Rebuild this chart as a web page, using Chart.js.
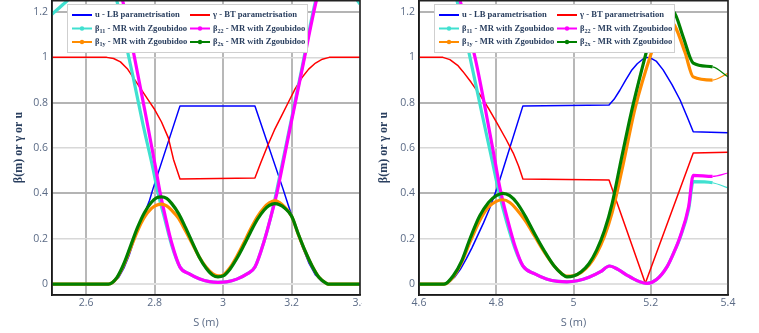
<!DOCTYPE html>
<html>
<head>
<meta charset="utf-8">
<script src="https://cdn.jsdelivr.net/npm/chart.js@4.4.1/dist/chart.umd.min.js"></script>
<style>
  html, body { margin: 0; padding: 0; background: #fff; }
  #wrap { position: relative; width: 759px; height: 333px; overflow: hidden; }
  #leftBox { position: absolute; left: 0; top: 0; width: 362px; height: 333px; }
  #rightBox { position: absolute; left: 362px; top: 0; width: 397px; height: 333px; }
</style>
</head>
<body>
<div id="wrap">
  <div id="leftBox"><canvas id="leftChart"></canvas></div>
  <div id="rightBox"><canvas id="rightChart"></canvas></div>
</div>
<script>
// legend text, same order for both panels
const legendLabels = [
  "u - LB parametrisation",
  "γ - BT parametrisation",
  "β_{11} - MR with Zgoubidoo",
  "β_{22} - MR with Zgoubidoo",
  "β_{1y} - MR with Zgoubidoo",
  "β_{2x} - MR with Zgoubidoo"
];

const yTicks = [0, 0.2, 0.4, 0.6, 0.8, 1, 1.2];
const leftXTicks = [2.6, 2.8, 3, 3.2, 3.4];
const rightXTicks = [4.6, 4.8, 5, 5.2, 5.4];

// ---- left panel, [S, value] ----
const uLeft = [[2.5,0],[2.665,0],[2.68,0.007],[2.695,0.03],[2.71,0.07],[2.725,0.125],[2.74,0.195],[2.755,0.255],[2.77,0.31],[2.785,0.37],[2.795,0.42],[2.874,0.786],[3.093,0.786],[3.175,0.42],[3.19,0.35],[3.21,0.26],[3.23,0.17],[3.25,0.095],[3.27,0.04],[3.29,0.01],[3.305,0],[3.4,0]];
const gammaLeft = [[2.5,1],[2.66,1],[2.68,0.995],[2.70,0.98],[2.72,0.95],[2.74,0.905],[2.76,0.86],[2.78,0.815],[2.80,0.77],[2.82,0.715],[2.84,0.645],[2.855,0.55],[2.874,0.464],[3.093,0.468],[3.11,0.535],[3.13,0.61],[3.15,0.68],[3.17,0.74],[3.19,0.8],[3.21,0.86],[3.23,0.91],[3.25,0.948],[3.27,0.975],[3.29,0.992],[3.31,1.0],[3.4,1.0]];
const b11Left = [[2.5,1.19],[2.532,1.233],[2.55,1.26],[2.6,1.42],[2.65,1.42],[2.689,1.253],[2.71,1.1],[2.737,0.914],[2.765,0.71],[2.795,0.51],[2.81,0.40],[2.83,0.285],[2.85,0.17],[2.874,0.075],[2.9,0.046],[2.93,0.024],[2.96,0.011],[2.985,0.008],[3.01,0.01],[3.04,0.022],[3.07,0.045],[3.093,0.075],[3.12,0.19],[3.14,0.30],[3.155,0.40],[3.169,0.503],[3.2,0.73],[3.23,0.95],[3.271,1.253],[3.31,1.42],[3.35,1.42],[3.392,1.253],[3.4,1.235]];
const b22Left = [[2.5,1.7],[2.6,1.6],[2.66,1.5],[2.706,1.253],[2.741,1.0],[2.772,0.76],[2.802,0.52],[2.815,0.41],[2.83,0.305],[2.85,0.18],[2.874,0.075],[2.9,0.046],[2.93,0.024],[2.96,0.011],[2.985,0.008],[3.01,0.01],[3.04,0.022],[3.07,0.045],[3.093,0.075],[3.12,0.19],[3.14,0.3],[3.157,0.40],[3.171,0.503],[3.2,0.72],[3.23,0.94],[3.273,1.253],[3.32,1.5],[3.4,1.7]];
const b1yLeft = [[2.5,0],[2.665,0],[2.69,0.028],[2.71,0.085],[2.73,0.16],[2.75,0.235],[2.77,0.295],[2.79,0.333],[2.805,0.348],[2.82,0.353],[2.835,0.345],[2.85,0.325],[2.87,0.29],[2.89,0.235],[2.91,0.178],[2.93,0.12],[2.95,0.075],[2.97,0.045],[2.985,0.036],[3.0,0.04],[3.02,0.072],[3.04,0.122],[3.06,0.18],[3.08,0.242],[3.10,0.297],[3.12,0.338],[3.135,0.358],[3.151,0.368],[3.165,0.36],[3.18,0.34],[3.2,0.30],[3.22,0.218],[3.24,0.143],[3.26,0.08],[3.28,0.03],[3.3,0.005],[3.307,0],[3.4,0]];
const b2xLeft = [[2.5,0],[2.665,0],[2.69,0.03],[2.71,0.09],[2.73,0.17],[2.75,0.25],[2.77,0.315],[2.79,0.36],[2.805,0.38],[2.82,0.385],[2.835,0.378],[2.85,0.355],[2.87,0.311],[2.89,0.25],[2.91,0.184],[2.93,0.12],[2.95,0.071],[2.97,0.039],[2.985,0.032],[3.0,0.036],[3.02,0.066],[3.04,0.113],[3.06,0.169],[3.08,0.229],[3.10,0.285],[3.12,0.327],[3.135,0.347],[3.151,0.355],[3.165,0.35],[3.18,0.335],[3.2,0.30],[3.22,0.22],[3.24,0.145],[3.26,0.08],[3.28,0.03],[3.3,0.005],[3.307,0],[3.4,0]];

// ---- right panel, [S, value] ----
const uRight = [[4.6,0],[4.662,0],[4.677,0.007],[4.692,0.03],[4.707,0.065],[4.722,0.11],[4.737,0.16],[4.752,0.215],[4.767,0.27],[4.782,0.33],[4.797,0.40],[4.81,0.465],[4.869,0.786],[5.092,0.79],[5.105,0.815],[5.12,0.855],[5.135,0.9],[5.15,0.942],[5.165,0.972],[5.18,0.993],[5.19,1.0],[5.2,0.997],[5.215,0.982],[5.232,0.945],[5.255,0.88],[5.276,0.812],[5.295,0.735],[5.31,0.672],[5.4,0.668]];
const gammaRight = [[4.6,1],[4.662,1],[4.68,0.99],[4.70,0.965],[4.714,0.937],[4.735,0.89],[4.758,0.834],[4.78,0.775],[4.802,0.71],[4.825,0.64],[4.844,0.578],[4.858,0.52],[4.869,0.464],[5.092,0.459],[5.186,0.004],[5.31,0.578],[5.4,0.582]];
const b11Right = [[4.6,1.7],[4.65,1.55],[4.698,1.253],[4.732,1.0],[4.762,0.76],[4.79,0.54],[4.805,0.42],[4.826,0.28],[4.848,0.16],[4.869,0.08],[4.9,0.045],[4.93,0.023],[4.96,0.012],[4.983,0.01],[5.01,0.015],[5.04,0.03],[5.07,0.055],[5.093,0.08],[5.115,0.065],[5.138,0.04],[5.165,0.015],[5.19,0.003],[5.215,0.02],[5.242,0.076],[5.26,0.14],[5.276,0.205],[5.298,0.33],[5.31,0.452],[5.36,0.447],[5.4,0.424]];
const b22Right = [[4.6,1.8],[4.66,1.55],[4.706,1.253],[4.745,1.0],[4.772,0.77],[4.796,0.55],[4.81,0.42],[4.83,0.28],[4.85,0.16],[4.869,0.08],[4.9,0.045],[4.93,0.023],[4.96,0.012],[4.983,0.01],[5.01,0.015],[5.04,0.03],[5.07,0.055],[5.093,0.08],[5.115,0.065],[5.138,0.04],[5.165,0.015],[5.19,0.003],[5.215,0.02],[5.242,0.076],[5.26,0.14],[5.276,0.209],[5.298,0.341],[5.31,0.48],[5.36,0.475],[5.4,0.49]];
const b1yRight = [[4.6,0],[4.665,0],[4.69,0.035],[4.71,0.095],[4.732,0.185],[4.757,0.28],[4.78,0.34],[4.8,0.365],[4.817,0.372],[4.835,0.36],[4.855,0.325],[4.875,0.28],[4.9,0.21],[4.925,0.14],[4.95,0.08],[4.97,0.046],[4.983,0.035],[5.0,0.037],[5.02,0.052],[5.04,0.083],[5.06,0.135],[5.08,0.21],[5.1,0.315],[5.125,0.5],[5.16,0.78],[5.204,1.033],[5.225,1.13],[5.245,1.165],[5.262,1.14],[5.289,1.02],[5.31,0.914],[5.36,0.9],[5.4,0.93]];
const b2xRight = [[4.6,0],[4.665,0],[4.69,0.04],[4.71,0.1],[4.732,0.2],[4.757,0.3],[4.78,0.36],[4.8,0.39],[4.817,0.4],[4.835,0.39],[4.855,0.355],[4.875,0.3],[4.9,0.22],[4.925,0.145],[4.95,0.08],[4.97,0.045],[4.983,0.032],[5.0,0.036],[5.02,0.055],[5.04,0.09],[5.06,0.15],[5.08,0.235],[5.1,0.355],[5.12,0.52],[5.15,0.76],[5.19,1.033],[5.212,1.17],[5.235,1.215],[5.26,1.2],[5.284,1.09],[5.31,0.975],[5.36,0.958],[5.4,0.914]];

const seriesColors = ["#0000ff", "#ff0000", "#40e0d0", "#ff00ff", "#ff8c00", "#008000"];
const tickColor = "#5b6b86";
const titleColor = "#2a3f5f";

const fmt = v => String(Math.round(v * 100) / 100);

// black frame round the plot area
const framePlugin = {
  id: "frame",
  afterDatasetsDraw(chart) {
    const a = chart.chartArea, ctx = chart.ctx;
    ctx.save();
    ctx.strokeStyle = "#222";
    ctx.lineWidth = 1.5;
    ctx.strokeRect(a.left, a.top + 0.75, a.right - a.left, a.bottom - a.top - 0.75);
    ctx.restore();
  }
};

// two-column boxed legend inside the plot, with subscripts
function drawLabel(ctx, text, x, y) {
  const m = text.match(/^(.*?)_\{(.*?)\}(.*)$/);
  const big = "bold 8.6px 'Liberation Serif'";
  const small = "bold 6.2px 'Liberation Serif'";
  ctx.font = big;
  if (!m) { ctx.fillText(text, x, y); return; }
  ctx.fillText(m[1], x, y);
  x += ctx.measureText(m[1]).width;
  ctx.font = small;
  ctx.fillText(m[2], x, y + 2.5);
  x += ctx.measureText(m[2]).width;
  ctx.font = big;
  ctx.fillText(m[3], x, y);
}

const legendPlugin = {
  id: "boxLegend",
  afterDraw(chart) {
    const ctx = chart.ctx, a = chart.chartArea;
    const x0 = a.left + 15, y0 = a.top + 4, w = 240, h = 48;
    ctx.save();
    ctx.fillStyle = "#fff";
    ctx.fillRect(x0, y0, w, h);
    ctx.strokeStyle = "#cfcfcf";
    ctx.lineWidth = 1;
    ctx.strokeRect(x0 + 0.5, y0 + 0.5, w, h);
    chart.data.datasets.forEach((ds, i) => {
      const col = i % 2, row = Math.floor(i / 2);
      const lx = x0 + 5 + col * 118;
      const ly = y0 + 11 + row * 13.5;
      ctx.strokeStyle = ds.borderColor;
      ctx.lineWidth = 2;
      ctx.beginPath();
      ctx.moveTo(lx, ly);
      ctx.lineTo(lx + 20, ly);
      ctx.stroke();
      if (i >= 2) {
        ctx.fillStyle = ds.borderColor;
        ctx.beginPath();
        ctx.arc(lx + 10, ly, 2.2, 0, Math.PI * 2);
        ctx.fill();
      }
      ctx.fillStyle = titleColor;
      ctx.textBaseline = "middle";
      drawLabel(ctx, ds.label, lx + 23, ly);
    });
    ctx.restore();
  }
};

function makeChart(canvasId, series, xMin, xMax, xTicks, yWidth, titlePad, padRight, tailFrom) {
  const datasets = series.map((pts, i) => ({
    label: legendLabels[i],
    data: pts.map(p => ({ x: p[0], y: p[1] })),
    borderColor: seriesColors[i],
    backgroundColor: seriesColors[i],
    borderWidth: i < 2 ? 1.5 : 3.2,
    pointRadius: 0,
    tension: 0,
    cubicInterpolationMode: i < 2 ? "default" : "monotone",
    borderJoinStyle: "round",
    order: 6 - i,
    segment: (i >= 2 && tailFrom != null)
      ? { borderWidth: c => (c.p0.parsed.x >= tailFrom - 1e-6 ? 1.2 : undefined) }
      : undefined
  }));

  return new Chart(document.getElementById(canvasId), {
    type: "line",
    data: { datasets },
    plugins: [framePlugin, legendPlugin],
    options: {
      responsive: true,
      maintainAspectRatio: false,
      animation: false,
      layout: { padding: { left: 0, right: padRight, top: 0, bottom: 0 } },
      plugins: { legend: { display: false }, tooltip: { enabled: false } },
      scales: {
        x: {
          type: "linear",
          min: xMin,
          max: xMax,
          afterBuildTicks: s => { s.ticks = xTicks.map(v => ({ value: v })); },
          afterFit: s => { s.height = 38; s.paddingLeft = 0; s.paddingRight = 0; },
          grid: { color: "#b8b8b8", lineWidth: 2, drawTicks: false },
          border: { display: true, color: "#000", width: 1.5 },
          ticks: {
            padding: 2, autoSkip: false, maxRotation: 0, color: tickColor,
            font: { family: "Open Sans", size: 10.5 },
            callback: v => fmt(v)
          },
          title: {
            display: true, text: "S (m)", color: tickColor,
            font: { family: "Open Sans", size: 11 },
            padding: { top: 0, bottom: 4 }
          }
        },
        y: {
          type: "linear",
          min: -0.048,
          max: 1.253,
          afterBuildTicks: s => { s.ticks = yTicks.map(v => ({ value: v })); },
          afterFit: s => { s.width = yWidth; s.paddingTop = 0; s.paddingBottom = 0; },
          grid: {
            drawTicks: false,
            color: c => {
              const v = c.tick ? c.tick.value : 0;
              if (Math.abs(v) < 1e-9) return "#e0e0e0";
              return Math.abs(v / 0.4 - Math.round(v / 0.4)) < 1e-6 ? "#b4b4b4" : "#d8d8d8";
            },
            lineWidth: c => {
              const v = c.tick ? c.tick.value : 0;
              return Math.abs(v / 0.4 - Math.round(v / 0.4)) < 1e-6 ? 2 : 1.5;
            }
          },
          border: { display: true, color: "#000", width: 1.5 },
          ticks: {
            padding: 4, autoSkip: false, color: tickColor,
            font: { family: "Open Sans", size: 10.5 },
            callback: v => fmt(v)
          },
          title: {
            display: true, text: "β(m) or γ or u", color: titleColor,
            font: { family: "Liberation Serif", weight: "bold", size: 12 },
            padding: { top: titlePad, bottom: 0 }
          }
        }
      }
    }
  });
}

makeChart("leftChart", [uLeft, gammaLeft, b11Left, b22Left, b1yLeft, b2xLeft],
  2.5, 3.4, leftXTicks, 52, 11.8, 2, null);
makeChart("rightChart", [uRight, gammaRight, b11Right, b22Right, b1yRight, b2xRight],
  4.6, 5.4, rightXTicks, 57, 14.3, 31, 5.36);
</script>
</body>
</html>
